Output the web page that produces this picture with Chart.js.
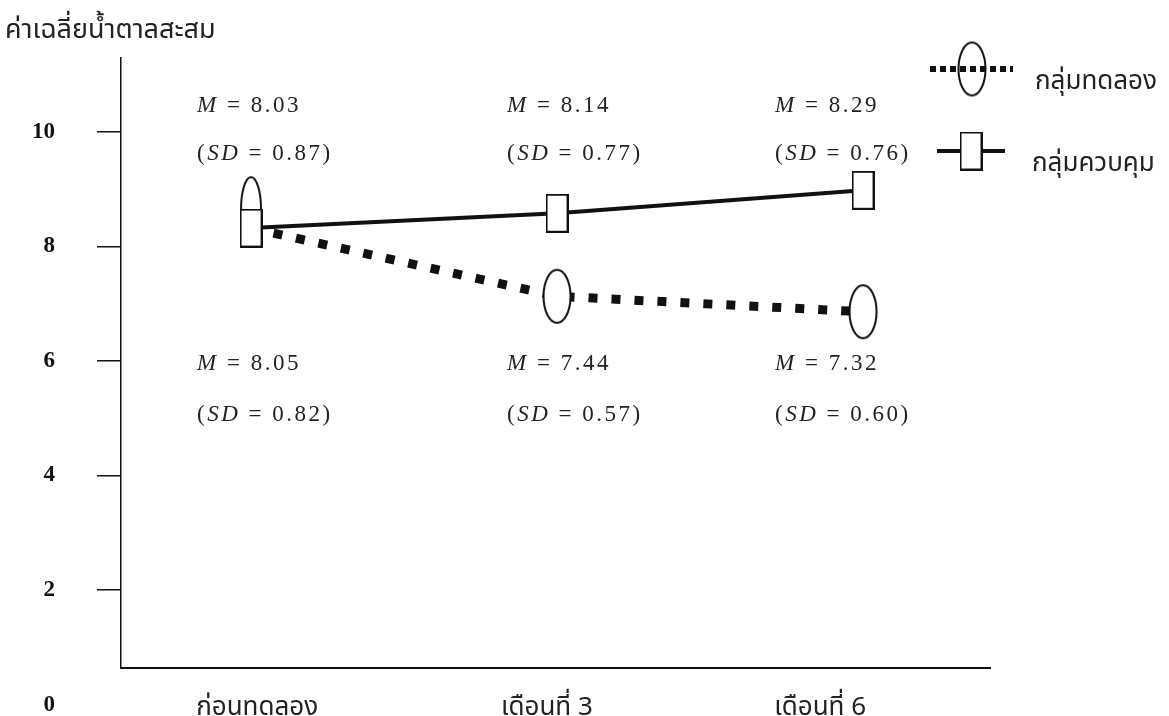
<!DOCTYPE html>
<html lang="th">
<head>
<meta charset="utf-8">
<title>ค่าเฉลี่ยน้ำตาลสะสม</title>
<script src="https://cdn.jsdelivr.net/npm/chart.js@4.4.1/dist/chart.umd.min.js"></script>
<style>
    html, body { margin: 0; padding: 0; background: #fff; }
    canvas { display: block; }
</style>
</head>
<body>
<canvas id="hba1cChart" width="1169" height="716"></canvas>
<script>
// ---- data -------------------------------------------------
const PERIODS = ['ก่อนทดลอง', 'เดือนที่ 3', 'เดือนที่ 6'];
const Y_TICKS = [2, 4, 6, 8, 10];
// heights of the marks as drawn in the figure
const EXPERIMENT_POINTS = [8.32, 7.13, 6.86];
const CONTROL_POINTS = [8.32, 8.58, 8.98];
// printed statistics
const EXPERIMENT_M = ['8.05', '7.44', '7.32'];
const EXPERIMENT_SD = ['0.82', '0.57', '0.60'];
const CONTROL_M = ['8.03', '8.14', '8.29'];
const CONTROL_SD = ['0.87', '0.77', '0.76'];

const THAI_FONT = "'Noto Sans Thai', 'Noto Sans', sans-serif";
const SERIF_FONT = "'Liberation Serif', 'DejaVu Serif', serif";
const INK = '#111';

// ---- markers ----------------------------------------------
function makeMarker(w, h, draw) {
    const c = document.createElement('canvas');
    c.width = w;
    c.height = h;
    const g = c.getContext('2d');
    g.lineWidth = 2;
    g.strokeStyle = INK;
    g.fillStyle = '#fff';
    draw(g, w, h);
    return c;
}

const ellipseMarker = makeMarker(32, 57, (g, w, h) => {
    g.beginPath();
    g.ellipse(w / 2, h / 2, 13.5, 26.5, 0, 0, Math.PI * 2);
    g.fill();
    g.stroke();
});

// the first oval sits partly hidden behind the square, shifted upward
const bulletMarker = makeMarker(24, 106, (g, w) => {
    g.beginPath();
    g.ellipse(w / 2, 34, 10, 32, 0, 0, Math.PI * 2);
    g.fill();
    g.stroke();
});

const rectMarker = makeMarker(23, 39, (g, w, h) => {
    g.fillRect(1, 1, w - 2, h - 2);
    g.strokeRect(1, 1, w - 2, h - 2);
});

// ---- plugins ----------------------------------------------
function drawRich(ctx, parts, x, y) {
    let cx = x;
    parts.forEach(([text, italic]) => {
        ctx.font = (italic ? 'italic ' : '') + '23px ' + SERIF_FONT;
        ctx.fillText(text, cx, y);
        cx += ctx.measureText(text).width;
    });
}

const statLabels = {
    id: 'statLabels',
    afterDatasetsDraw(chart, args, opts) {
        const { ctx, scales: { x, y } } = chart;
        ctx.save();
        ctx.fillStyle = '#222';
        ctx.textAlign = 'left';
        ctx.textBaseline = 'middle';
        ctx.letterSpacing = '2.5px';
        opts.groups.forEach(grp => {
            PERIODS.forEach((_, i) => {
                const px = x.getPixelForValue(i) + opts.shift[i];
                drawRich(ctx, [['M', true], [' = ' + grp.m[i], false]], px, y.getPixelForValue(grp.rows[0]));
                drawRich(ctx, [['(', false], ['SD', true], [' = ' + grp.sd[i] + ')', false]], px, y.getPixelForValue(grp.rows[1]));
            });
        });
        ctx.restore();
    }
};

const zeroTick = {
    id: 'zeroTick',
    afterDraw(chart) {
        const { ctx, scales: { y } } = chart;
        const o = y.options;
        ctx.save();
        ctx.font = 'bold 23px ' + SERIF_FONT;
        ctx.fillStyle = INK;
        ctx.textAlign = 'right';
        ctx.textBaseline = 'middle';
        ctx.fillText('0', y.right - o.grid.tickLength - o.ticks.padding, y.getPixelForValue(0));
        ctx.restore();
    }
};

const sideLegend = {
    id: 'sideLegend',
    afterDraw(chart, args, opts) {
        const { ctx } = chart;
        ctx.save();
        chart.data.datasets.forEach((ds, i) => {
            const it = opts.items[i];
            const m = Array.isArray(ds.pointStyle) ? ds.pointStyle[ds.pointStyle.length - 1] : ds.pointStyle;
            const line = () => {
                ctx.strokeStyle = ds.borderColor;
                ctx.lineWidth = it.lineWidth;
                ctx.setLineDash(it.dash);
                ctx.beginPath();
                ctx.moveTo(it.x0, it.y);
                ctx.lineTo(it.x1, it.y);
                ctx.stroke();
            };
            // dotted sample runs across its oval, solid one stops at the box
            if (it.lineOnTop) {
                ctx.drawImage(m, it.mx - m.width / 2, it.y - m.height / 2);
                line();
            } else {
                line();
                ctx.drawImage(m, it.mx - m.width / 2, it.y - m.height / 2);
            }
            ctx.font = '26px ' + THAI_FONT;
            ctx.fillStyle = '#222';
            ctx.textAlign = 'left';
            ctx.textBaseline = 'middle';
            ctx.fillText(ds.label, it.tx, it.ty);
        });
        ctx.restore();
    }
};

// ---- chart ------------------------------------------------
new Chart(document.getElementById('hba1cChart'), {
    type: 'line',
    data: {
        datasets: [
            {
                label: 'กลุ่มทดลอง',
                data: EXPERIMENT_POINTS.map((v, i) => ({ x: i, y: v })),
                borderColor: INK,
                borderWidth: 9,
                borderDash: [9, 14],
                borderCapStyle: 'butt',
                pointStyle: [bulletMarker, ellipseMarker, ellipseMarker],
                pointRadius: 5,
                tension: 0,
                order: 2,
            },
            {
                label: 'กลุ่มควบคุม',
                data: CONTROL_POINTS.map((v, i) => ({ x: i, y: v })),
                borderColor: INK,
                borderWidth: 4,
                pointStyle: rectMarker,
                pointRadius: 5,
                tension: 0,
                order: 1,
            },
        ]
    },
    options: {
        responsive: false,
        animation: false,
        layout: { padding: { left: 5, right: 179, top: 0, bottom: 0 } },
        plugins: {
            legend: { display: false },
            tooltip: { enabled: false },
            title: {
                display: true, text: 'ค่าเฉลี่ยน้ำตาลสะสม', align: 'start', color: '#222',
                font: { family: THAI_FONT, size: 27, weight: 'normal' },
                padding: { top: 16, bottom: 9.6 },
            },
            statLabels: {
                shift: [-54, -50, -88],
                groups: [
                    { m: CONTROL_M, sd: CONTROL_SD, rows: [10.46, 9.61] },
                    { m: EXPERIMENT_M, sd: EXPERIMENT_SD, rows: [5.94, 5.05] },
                ]
            },
            sideLegend: {
                items: [
                    { x0: 930, x1: 1013, y: 69, mx: 972, lineWidth: 6, dash: [6, 4], tx: 1035, ty: 84, lineOnTop: true },
                    { x0: 937, x1: 1005, y: 151, mx: 971, lineWidth: 4, dash: [], tx: 1032, ty: 166, lineOnTop: false },
                ]
            }
        },
        scales: {
            x: {
                type: 'linear', min: -0.425, max: 2.415,
                // the period names are printed a little left of the later marks
                afterBuildTicks: s => { s.ticks = [0.02, 0.967, 1.86].map(v => ({ value: v })); },
                afterFit: s => { s.height = 48; },
                ticks: {
                    callback: (v, i) => PERIODS[i], color: '#222', padding: 26, maxRotation: 0, autoSkip: false,
                    font: { family: THAI_FONT, size: 26 },
                },
                grid: { display: false, drawTicks: false },
                border: { color: INK, width: 2 },
            },
            y: {
                min: 0.64, max: 11.29,
                afterBuildTicks: s => { s.ticks = Y_TICKS.map(v => ({ value: v })); },
                // wide label gap should not push the plot area up from the bottom
                afterFit: s => { s.width = 116; s.paddingBottom = 0; s.paddingTop = 0; },
                ticks: { color: INK, padding: 42, font: { family: SERIF_FONT, size: 23, weight: 'bold' } },
                grid: { drawOnChartArea: false, drawTicks: true, tickLength: 24, color: INK, lineWidth: 1.5 },
                border: { color: INK, width: 1.5 },
            }
        }
    },
    plugins: [statLabels, zeroTick, sideLegend]
});
</script>
</body>
</html>
